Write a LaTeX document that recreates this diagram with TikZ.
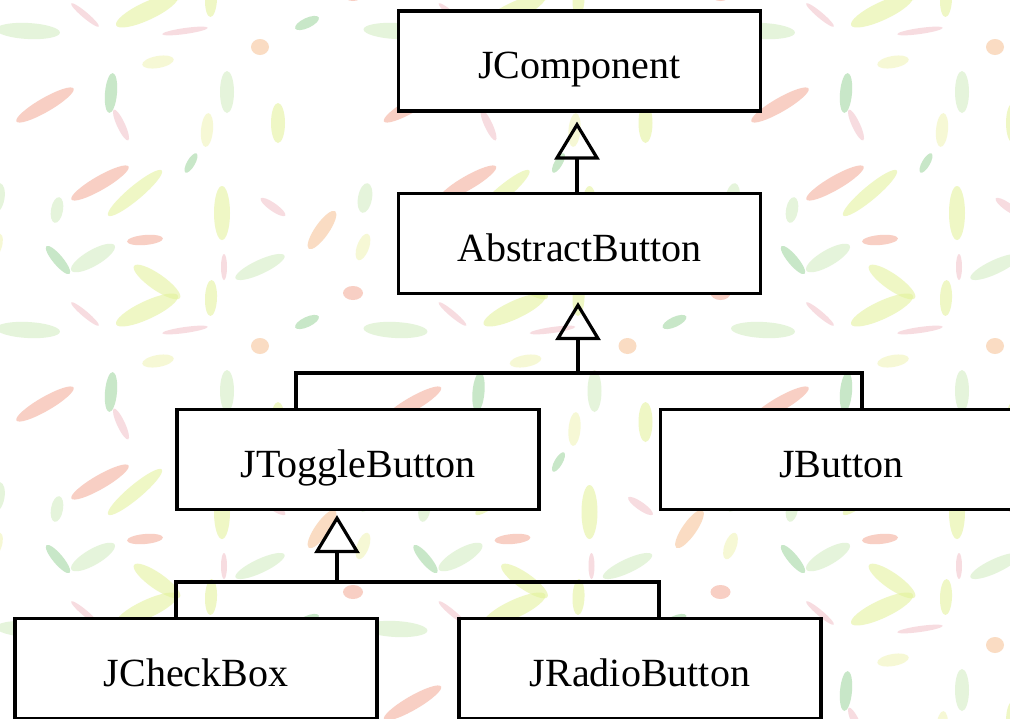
\documentclass[tikz,border=0pt]{standalone}
\usepackage{fontspec}
\setmainfont{Liberation Serif}
\usetikzlibrary{arrows.meta,calc}

% confetti colours of the paper texture
\definecolor{cfPaleGreen}{RGB}{208,236,190}
\definecolor{cfGreen}{RGB}{155,212,155}
\definecolor{cfPink}{RGB}{242,192,200}
\definecolor{cfSalmon}{RGB}{243,168,148}
\definecolor{cfLime}{RGB}{226,242,150}
\definecolor{cfYellow}{RGB}{240,244,180}
\definecolor{cfOrange}{RGB}{246,192,146}

% one confetti stroke: centre x, centre y, half length, half width, angle, colour
\newcommand\cfstroke[6]{%
  \fill[#6, fill opacity=0.55, rotate around={#5:(#1,#2)}] (#1,#2) ellipse [x radius=#3pt, y radius=#4pt];}

% one tile of the texture (367.5 x 299)
\newcommand\cftile{%
  \cfstroke{28}{31}{32}{8}{-3}{cfPaleGreen}
  \cfstroke{85}{15}{18}{3}{-40}{cfPink}
  \cfstroke{147}{11}{34}{9}{25}{cfLime}
  \cfstroke{158}{62}{16}{6}{10}{cfYellow}
  \cfstroke{111}{93}{20}{6}{85}{cfGreen}
  \cfstroke{45}{105}{33}{7}{30}{cfSalmon}
  \cfstroke{121}{125}{17}{4}{-65}{cfPink}
  \cfstroke{100}{183}{33}{7}{30}{cfSalmon}
  \cfstroke{135}{193}{35}{7}{40}{cfLime}
  \cfstroke{57}{210}{13}{6}{80}{cfPaleGreen}
  \cfstroke{145}{240}{18}{5}{5}{cfSalmon}
  \cfstroke{58}{260}{18}{5}{-50}{cfGreen}
  \cfstroke{93}{258}{25}{8}{30}{cfPaleGreen}
  \cfstroke{157}{282}{28}{8}{-35}{cfLime}
  \cfstroke{185}{31}{23}{3}{8}{cfPink}
  \cfstroke{307}{23}{13}{5}{25}{cfGreen}
  \cfstroke{260}{47}{9}{8}{0}{cfOrange}
  \cfstroke{227}{92}{21}{7}{90}{cfPaleGreen}
  \cfstroke{278}{123}{20}{7}{90}{cfLime}
  \cfstroke{207}{130}{17}{6}{85}{cfYellow}
  \cfstroke{191}{163}{11}{4}{60}{cfGreen}
  \cfstroke{222}{213}{27}{8}{90}{cfLime}
  \cfstroke{273}{207}{15}{4}{-35}{cfPink}
  \cfstroke{322}{230}{23}{7}{55}{cfOrange}
  \cfstroke{365}{198}{15}{7}{80}{cfPaleGreen}
  \cfstroke{363}{247}{14}{6}{70}{cfYellow}
  \cfstroke{224}{267}{13}{3}{90}{cfPink}
  \cfstroke{260}{267}{27}{7}{25}{cfPaleGreen}
  \cfstroke{211}{298}{18}{6}{88}{cfLime}
  \cfstroke{353}{293}{10}{7}{0}{cfSalmon}
}

\tikzset{
  classbox/.style={draw, line width=3.2pt, fill=white,
    minimum width=362pt, minimum height=100pt, inner sep=0pt,
    font=\fontsize{40}{48}\selectfont, text height=35pt, text depth=0pt},
  link/.style={line width=3.2pt},
  inherit/.style={line width=3.2pt, -{Triangle[open, length=38pt, width=45pt]}},
}

\begin{document}
\begin{tikzpicture}[x=1pt, y=-1pt]
  \useasboundingbox (0,0) rectangle (1010,718);

  % paper texture
  \begin{scope}
    \clip (0,0) rectangle (1010,718);
    \fill[white] (0,0) rectangle (1010,718);
    \foreach \tx in {-367.5,0,367.5,735}{
      \foreach \ty in {-299,0,299,598}{
        \begin{scope}[shift={(\tx,\ty)}]
          \cftile
        \end{scope}
      }
    }
  \end{scope}

  % classes
  \node[classbox] (jc) at (579.5,61)   {JComponent};
  \node[classbox] (ab) at (579.5,243.5) {AbstractButton};
  \node[classbox] (jt) at (358,459.5)  {JToggleButton};
  \node[classbox] (jb) at (841.5,459.5) {JButton};
  \node[classbox] (cb) at (196,668.5)  {JCheckBox};
  \node[classbox] (rb) at (640,668.5)  {JRadioButton};

  % junction points of the inheritance trees
  \coordinate (j1) at (578,373);
  \coordinate (j2) at (337,582);

  % AbstractButton extends JComponent
  \draw[inherit, shorten >=9pt] ([xshift=-2.5pt]ab.north) -- ([xshift=-2.5pt]jc.south);

  % JToggleButton and JButton extend AbstractButton
  \draw[link] ([xshift=-62pt]jt.north) |- (j1) -| ([xshift=20.5pt]jb.north);
  \draw[inherit, shorten >=7pt] (j1) -- (j1 |- ab.south);

  % JCheckBox and JRadioButton extend JToggleButton
  \draw[link] ([xshift=-20pt]cb.north) |- (j2) -| ([xshift=19pt]rb.north);
  \draw[inherit, shorten >=4pt] (j2) -- (j2 |- jt.south);
\end{tikzpicture}
\end{document}
